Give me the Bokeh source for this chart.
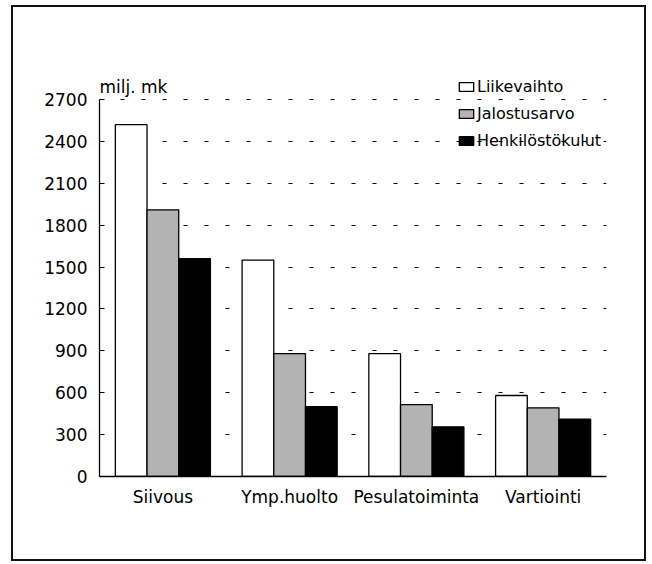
from bokeh.plotting import figure
from bokeh.layouts import column
from bokeh.models import (FixedTicker, Legend, LegendItem, Label,
                          ColumnDataSource, FactorRange, Range1d)
from bokeh.transform import dodge
from bokeh.embed import file_html
from bokeh.resources import INLINE

categories = ["Siivous", "Ymp.huolto", "Pesulatoiminta", "Vartiointi"]
liikevaihto = [2520, 1550, 880, 580]
jalostusarvo = [1910, 880, 515, 492]
henkilostokulut = [1560, 500, 356, 410]
series_names = ["Liikevaihto", "Jalostusarvo", "Henkilöstökulut"]
y_ticks = [0, 300, 600, 900, 1200, 1500, 1800, 2100, 2400, 2700]
unit_label = "milj. mk"

FONT = "DejaVu Sans"
FS = "17px"

src = ColumnDataSource(dict(cat=categories, l=liikevaihto, j=jalostusarvo, h=henkilostokulut))

# frame spans 464 px; 2700 sits 377 px above the baseline
y_top = y_ticks[-1] * 464 / 377

p = figure(width=631, height=552, output_backend="svg", toolbar_location=None,
           x_range=FactorRange(*categories, range_padding=0),
           y_range=Range1d(0, y_top), title=None)
p.min_border_left = 86
p.min_border_right = 38
p.min_border_top = 5
p.min_border_bottom = 83
p.outline_line_color = None
p.background_fill_color = "white"
p.border_fill_color = "white"

fills = ["white", "#b3b3b3", "black"]
cols = ["l", "j", "h"]
offsets = [-0.25, 0.0, 0.25]
renderers = []
for c, off, fc in zip(cols, offsets, fills):
    r = p.vbar(x=dodge("cat", off, range=p.x_range), top=c, width=0.25, source=src,
               fill_color=fc, line_color="black", line_width=1.3)
    renderers.append(r)

# grid
p.xgrid.grid_line_color = None
p.ygrid.ticker = FixedTicker(ticks=y_ticks)
p.ygrid.grid_line_color = "black"
p.ygrid.grid_line_width = 1.2
p.ygrid.grid_line_dash = "4 17"

# axes
p.yaxis.ticker = FixedTicker(ticks=y_ticks)
p.yaxis.bounds = (y_ticks[0], y_ticks[-1])
p.yaxis.major_tick_in = 5
p.yaxis.major_tick_out = 0
p.yaxis.minor_tick_line_color = None
p.yaxis.major_label_standoff = 12
p.yaxis.axis_line_width = 1.3
p.yaxis.axis_line_color = "black"
p.yaxis.major_tick_line_color = "black"

p.xaxis.major_tick_line_color = None
p.xaxis.minor_tick_line_color = None
p.xaxis.major_label_standoff = 4
p.xaxis.axis_line_width = 1.3
p.xaxis.axis_line_color = "black"

for ax in (p.xaxis, p.yaxis):
    ax.major_label_text_font = FONT
    ax.major_label_text_font_size = FS
    ax.major_label_text_color = "black"

# unit label
p.add_layout(Label(x=0, y=390, x_units="screen", y_units="screen", text=unit_label,
                   text_font=FONT, text_font_size=FS, text_color="black",
                   text_baseline="alphabetic", text_align="left"))

# legend
legend = Legend(items=[LegendItem(label=n, renderers=[r]) for n, r in zip(series_names, renderers)],
                location=(358, 326), padding=0, margin=0, spacing=7,
                glyph_width=18, glyph_height=11, label_height=20, label_standoff=2,
                label_text_font=FONT, label_text_font_size="16px", label_text_color="black",
                background_fill_alpha=0, border_line_alpha=0)
p.add_layout(legend, "center")

page = column(p, styles={"border": "2px solid #111", "margin-left": "11px", "margin-top": "5px"})

open("out.html", "w").write(file_html(page, INLINE))
